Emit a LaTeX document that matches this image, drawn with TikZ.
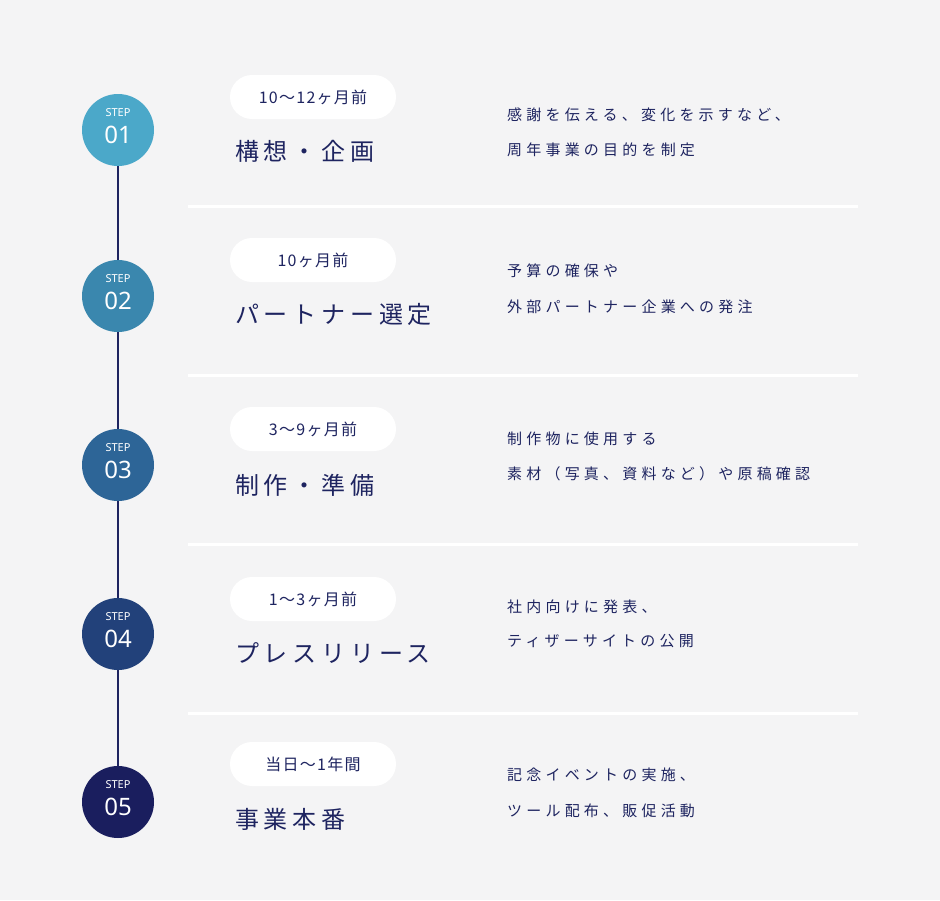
\documentclass[tikz,border=0pt]{standalone}
\usepackage{fontspec}
\newfontfamily\cjk[LetterSpace=20]{Noto Sans CJK JP}
\newfontfamily\cjkpill[LetterSpace=8]{Noto Sans CJK JP}
\newfontfamily\cjkdesc[LetterSpace=28]{Noto Sans CJK JP}
\newfontfamily\stepfont{Noto Sans}
\definecolor{bgcol}{HTML}{F4F4F5}
\definecolor{navy}{HTML}{1E2460}
\definecolor{stepA}{HTML}{4BA8C9}
\definecolor{stepB}{HTML}{3A87AE}
\definecolor{stepC}{HTML}{2D6597}
\definecolor{stepD}{HTML}{22417A}
\definecolor{stepE}{HTML}{1A1E5E}
\tikzset{
  stepdot/.style={circle, minimum size=72pt, inner sep=0pt, text=white},
  pill/.style={rounded corners=22pt, fill=white, minimum width=166pt, minimum height=44pt, inner sep=0pt, text=navy, font=\cjkpill\fontsize{16}{16}\selectfont},
  title/.style={anchor=west, text=navy, inner sep=0pt, font=\cjk\fontsize{24}{24}\selectfont},
  desc/.style={anchor=west, text=navy, inner sep=0pt, font=\cjkdesc\fontsize{15}{15}\selectfont},
}
\begin{document}
\begin{tikzpicture}[x=1pt,y=-1pt]
  \fill[bgcol](0,0) rectangle (940,900);

  % separators
  \foreach \y in {206,375,544,713}
    \draw[white, line width=3pt](188,\y) -- (858,\y);

  % steps
  \node[stepdot, fill=stepA] (s1) at (118,130) {};
  \node[stepdot, fill=stepB] (s2) at (118,296) {};
  \node[stepdot, fill=stepC] (s3) at (118,465) {};
  \node[stepdot, fill=stepD] (s4) at (118,634) {};
  \node[stepdot, fill=stepE] (s5) at (118,802) {};
  \foreach \a/\b in {s1/s2,s2/s3,s3/s4,s4/s5}
    \draw[navy, line width=1.5pt](\a) -- (\b);
  \foreach \n/\k in {s1/01,s2/02,s3/03,s4/04,s5/05} {
    \node[text=white, font=\stepfont\fontsize{11}{11}\selectfont] at ([yshift=17pt]\n.center) {STEP};
    \node[text=white, font=\stepfont\fontsize{24}{24}\selectfont] at ([yshift=-5pt]\n.center) {\k};
  }

  % periods
  \node[pill] (p1) at (313,97) {10〜12ヶ月前};
  \node[pill] (p2) at (313,260) {10ヶ月前};
  \node[pill] (p3) at (313,429) {3〜9ヶ月前};
  \node[pill] (p4) at (313,599) {1〜3ヶ月前};
  \node[pill] (p5) at (313,764) {当日〜1年間};

  % titles
  \node[title] (t1) at (235,151) {構想・企画};
  \node[title] (t2) at (235,314) {パートナー選定};
  \node[title] (t3) at (235,485) {制作・準備};
  \node[title] (t4) at (235,653) {プレスリリース};
  \node[title] (t5) at (235,819) {事業本番};

  % descriptions
  \node[desc] (d1a) at (507,115) {感謝を伝える、変化を示すなど、};
  \node[desc] (d1b) at (507,150) {周年事業の目的を制定};
  \node[desc] (d2a) at (507,271) {予算の確保や};
  \node[desc] (d2b) at (507,307) {外部パートナー企業への発注};
  \node[desc] (d3a) at (507,439) {制作物に使用する};
  \node[desc] (d3b) at (507,474) {素材（写真、資料など）や原稿確認};
  \node[desc] (d4a) at (507,607) {社内向けに発表、};
  \node[desc] (d4b) at (507,641) {ティザーサイトの公開};
  \node[desc] (d5a) at (507,775) {記念イベントの実施、};
  \node[desc] (d5b) at (507,811) {ツール配布、販促活動};
\end{tikzpicture}
\end{document}
